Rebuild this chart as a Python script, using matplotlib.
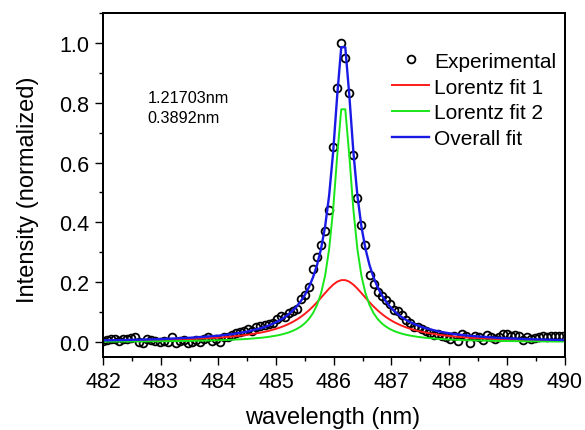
"""
Balmer H-beta line profile with a two-Lorentzian decomposition.
"""

import matplotlib
matplotlib.use("Agg")
import matplotlib.pyplot as plt
from matplotlib.patches import Rectangle
from matplotlib.ticker import MultipleLocator, FormatStrFormatter

wavelength = [
    482.00, 482.07, 482.14, 482.21, 482.28, 482.35, 482.42, 482.49, 482.56, 482.63,
    482.70, 482.77, 482.84, 482.91, 482.98, 483.05, 483.12, 483.19, 483.26, 483.33,
    483.40, 483.47, 483.54, 483.61, 483.68, 483.75, 483.82, 483.89, 483.96, 484.03,
    484.10, 484.17, 484.24, 484.31, 484.38, 484.45, 484.52, 484.59, 484.66, 484.73,
    484.80, 484.87, 484.94, 485.01, 485.08, 485.15, 485.22, 485.29, 485.36, 485.43,
    485.50, 485.57, 485.64, 485.71, 485.78, 485.85, 485.92, 485.99, 486.06, 486.13,
    486.20, 486.27, 486.34, 486.41, 486.48, 486.55, 486.62, 486.69, 486.76, 486.83,
    486.90, 486.97, 487.04, 487.11, 487.18, 487.25, 487.32, 487.39, 487.46, 487.53,
    487.60, 487.67, 487.74, 487.81, 487.88, 487.95, 488.02, 488.09, 488.16, 488.23,
    488.30, 488.37, 488.44, 488.51, 488.58, 488.65, 488.72, 488.79, 488.86, 488.93,
    489.00, 489.07, 489.14, 489.21, 489.28, 489.35, 489.42, 489.49, 489.56, 489.63,
    489.70, 489.77, 489.84, 489.91, 489.98,
]
intensity = [
    0.005, 0.008, 0.012, 0.010, 0.003, 0.011, 0.012, 0.014, 0.016, 0.002,
    -0.002, 0.012, 0.006, 0.004, 0.001, 0.004, -0.001, 0.016, -0.002, 0.003,
    0.008, -0.002, 0.001, 0.006, 0.001, 0.012, 0.016, 0.004, 0.010, 0.002,
    0.016, 0.018, 0.023, 0.030, 0.034, 0.036, 0.043, 0.038, 0.050, 0.053,
    0.056, 0.061, 0.065, 0.078, 0.086, 0.083, 0.096, 0.104, 0.112, 0.145,
    0.157, 0.185, 0.246, 0.285, 0.323, 0.371, 0.442, 0.653, 0.848, 1.000,
    0.949, 0.832, 0.625, 0.483, 0.391, 0.323, 0.226, 0.194, 0.168, 0.154,
    0.140, 0.127, 0.109, 0.105, 0.090, 0.074, 0.063, 0.051, 0.051, 0.043,
    0.037, 0.031, 0.023, 0.026, 0.019, 0.016, 0.010, 0.020, 0.004, 0.027,
    0.022, -0.003, 0.020, 0.018, 0.006, 0.025, 0.017, 0.010, 0.018, 0.029,
    0.027, 0.021, 0.024, 0.019, 0.006, 0.017, 0.012, 0.014, 0.018, 0.020,
    0.018, 0.020, 0.021, 0.021, 0.022,
]

# Fitted curves at these wavelengths
fit_wavelength = [
    482.00, 482.50, 483.00, 483.50, 484.00, 484.25, 484.50, 484.75, 484.87, 485.01,
    485.08, 485.15, 485.22, 485.29, 485.36, 485.43, 485.50, 485.57, 485.64, 485.71,
    485.78, 485.85, 485.92, 485.99, 486.06, 486.13, 486.20, 486.27, 486.34, 486.41,
    486.48, 486.55, 486.62, 486.69, 486.76, 486.83, 486.90, 486.97, 487.04, 487.11,
    487.18, 487.25, 487.32, 487.46, 487.58, 487.83, 488.08, 488.33, 488.83, 489.33,
    489.83, 490.00,
]
lorentz_1 = [
    0.0044, 0.0056, 0.0074, 0.0103, 0.0152, 0.0191, 0.0245, 0.0325, 0.0376, 0.0452,
    0.0498, 0.0550, 0.0610, 0.0678, 0.0756, 0.0846, 0.0948, 0.1063, 0.1192, 0.1334,
    0.1485, 0.1640, 0.1790, 0.1921, 0.2020, 0.2073, 0.2073, 0.2020, 0.1921, 0.1790,
    0.1640, 0.1485, 0.1334, 0.1192, 0.1063, 0.0948, 0.0846, 0.0756, 0.0678, 0.0610,
    0.0550, 0.0498, 0.0452, 0.0376, 0.0325, 0.0245, 0.0191, 0.0152, 0.0103, 0.0074,
    0.0056, 0.0051,
]
lorentz_2 = [
    0.0018, 0.0023, 0.0030, 0.0043, 0.0064, 0.0082, 0.0108, 0.0149, 0.0177, 0.0222,
    0.0250, 0.0285, 0.0327, 0.0378, 0.0443, 0.0526, 0.0633, 0.0776, 0.0970, 0.1241,
    0.1634, 0.2218, 0.3106, 0.4439, 0.6219, 0.7778, 0.7778, 0.6219, 0.4439, 0.3106,
    0.2218, 0.1634, 0.1241, 0.0970, 0.0776, 0.0633, 0.0526, 0.0443, 0.0378, 0.0327,
    0.0285, 0.0250, 0.0222, 0.0177, 0.0149, 0.0108, 0.0082, 0.0064, 0.0043, 0.0030,
    0.0023, 0.0021,
]
overall_fit = [
    0.0061, 0.0078, 0.0104, 0.0146, 0.0217, 0.0273, 0.0353, 0.0474, 0.0553, 0.0674,
    0.0748, 0.0835, 0.0937, 0.1056, 0.1199, 0.1372, 0.1581, 0.1839, 0.2162, 0.2575,
    0.3119, 0.3858, 0.4896, 0.6360, 0.8239, 0.9851, 0.9851, 0.8239, 0.6360, 0.4896,
    0.3858, 0.3119, 0.2575, 0.2162, 0.1839, 0.1581, 0.1372, 0.1199, 0.1056, 0.0937,
    0.0835, 0.0748, 0.0674, 0.0553, 0.0474, 0.0353, 0.0273, 0.0217, 0.0146, 0.0104,
    0.0078, 0.0072,
]

fwhm_labels = ["1.21703nm", "0.3892nm"]


def main():
    plt.rcParams['font.family'] = ['Liberation Sans', 'DejaVu Sans']

    fig = plt.figure(figsize=(5.85, 4.31), dpi=100)
    ax = fig.add_axes([0.176, 0.169, 0.789, 0.799])

    ax.plot(wavelength, intensity, 'o', color='black', markerfacecolor='none',
            markersize=5.6, markeredgewidth=1.3, label='Experimental')
    ax.plot(fit_wavelength, lorentz_1, color='#ff1a1a', linewidth=1.4,
            label='Lorentz fit 1')
    ax.plot(fit_wavelength, lorentz_2, color='#19e619', linewidth=1.4,
            label='Lorentz fit 2')
    ax.plot(fit_wavelength, overall_fit, color='#1a1ae6', linewidth=1.7,
            label='Overall fit')

    ax.set_xlim(482, 490)
    ax.set_ylim(-0.05, 1.10)

    ax.xaxis.set_major_locator(MultipleLocator(1))
    ax.xaxis.set_minor_locator(MultipleLocator(0.5))
    ax.yaxis.set_major_locator(MultipleLocator(0.2))
    ax.yaxis.set_minor_locator(MultipleLocator(0.1))
    ax.yaxis.set_major_formatter(FormatStrFormatter('%.1f'))

    ax.tick_params(which='both', direction='out', top=False, right=False,
                   width=1.0, labelsize=15.5, pad=4)
    ax.tick_params(which='major', length=6)
    ax.tick_params(which='minor', length=3)
    for side in ['left', 'right', 'top', 'bottom']:
        ax.spines[side].set_visible(True)
        ax.spines[side].set_color('black')
        ax.spines[side].set_linewidth(1.4)

    # closed frame around the plot area
    ax.add_patch(Rectangle((0, 0), 1, 1, transform=ax.transAxes, fill=False,
                           edgecolor='black', linewidth=1.4, clip_on=False,
                           zorder=5))

    ax.set_xlabel('wavelength (nm)', fontsize=17, va='center')
    ax.set_ylabel('Intensity (normalized)', fontsize=17, va='center')
    ax.xaxis.set_label_coords(0.498, -0.174)
    ax.yaxis.set_label_coords(-0.162, 0.49)

    ax.text(0.097, 0.753, fwhm_labels[0], transform=ax.transAxes,
            fontsize=11.7, va='center')
    ax.text(0.097, 0.695, fwhm_labels[1], transform=ax.transAxes,
            fontsize=11.7, va='center')

    ax.legend(loc='upper left', bbox_to_anchor=(0.627, 0.887), frameon=False,
              fontsize=15, borderpad=0, borderaxespad=0, handlelength=1.75,
              handletextpad=0.25, labelspacing=0.33, numpoints=1)

    fig.savefig('out.png', dpi=100, facecolor='white')


if __name__ == "__main__":
    main()
